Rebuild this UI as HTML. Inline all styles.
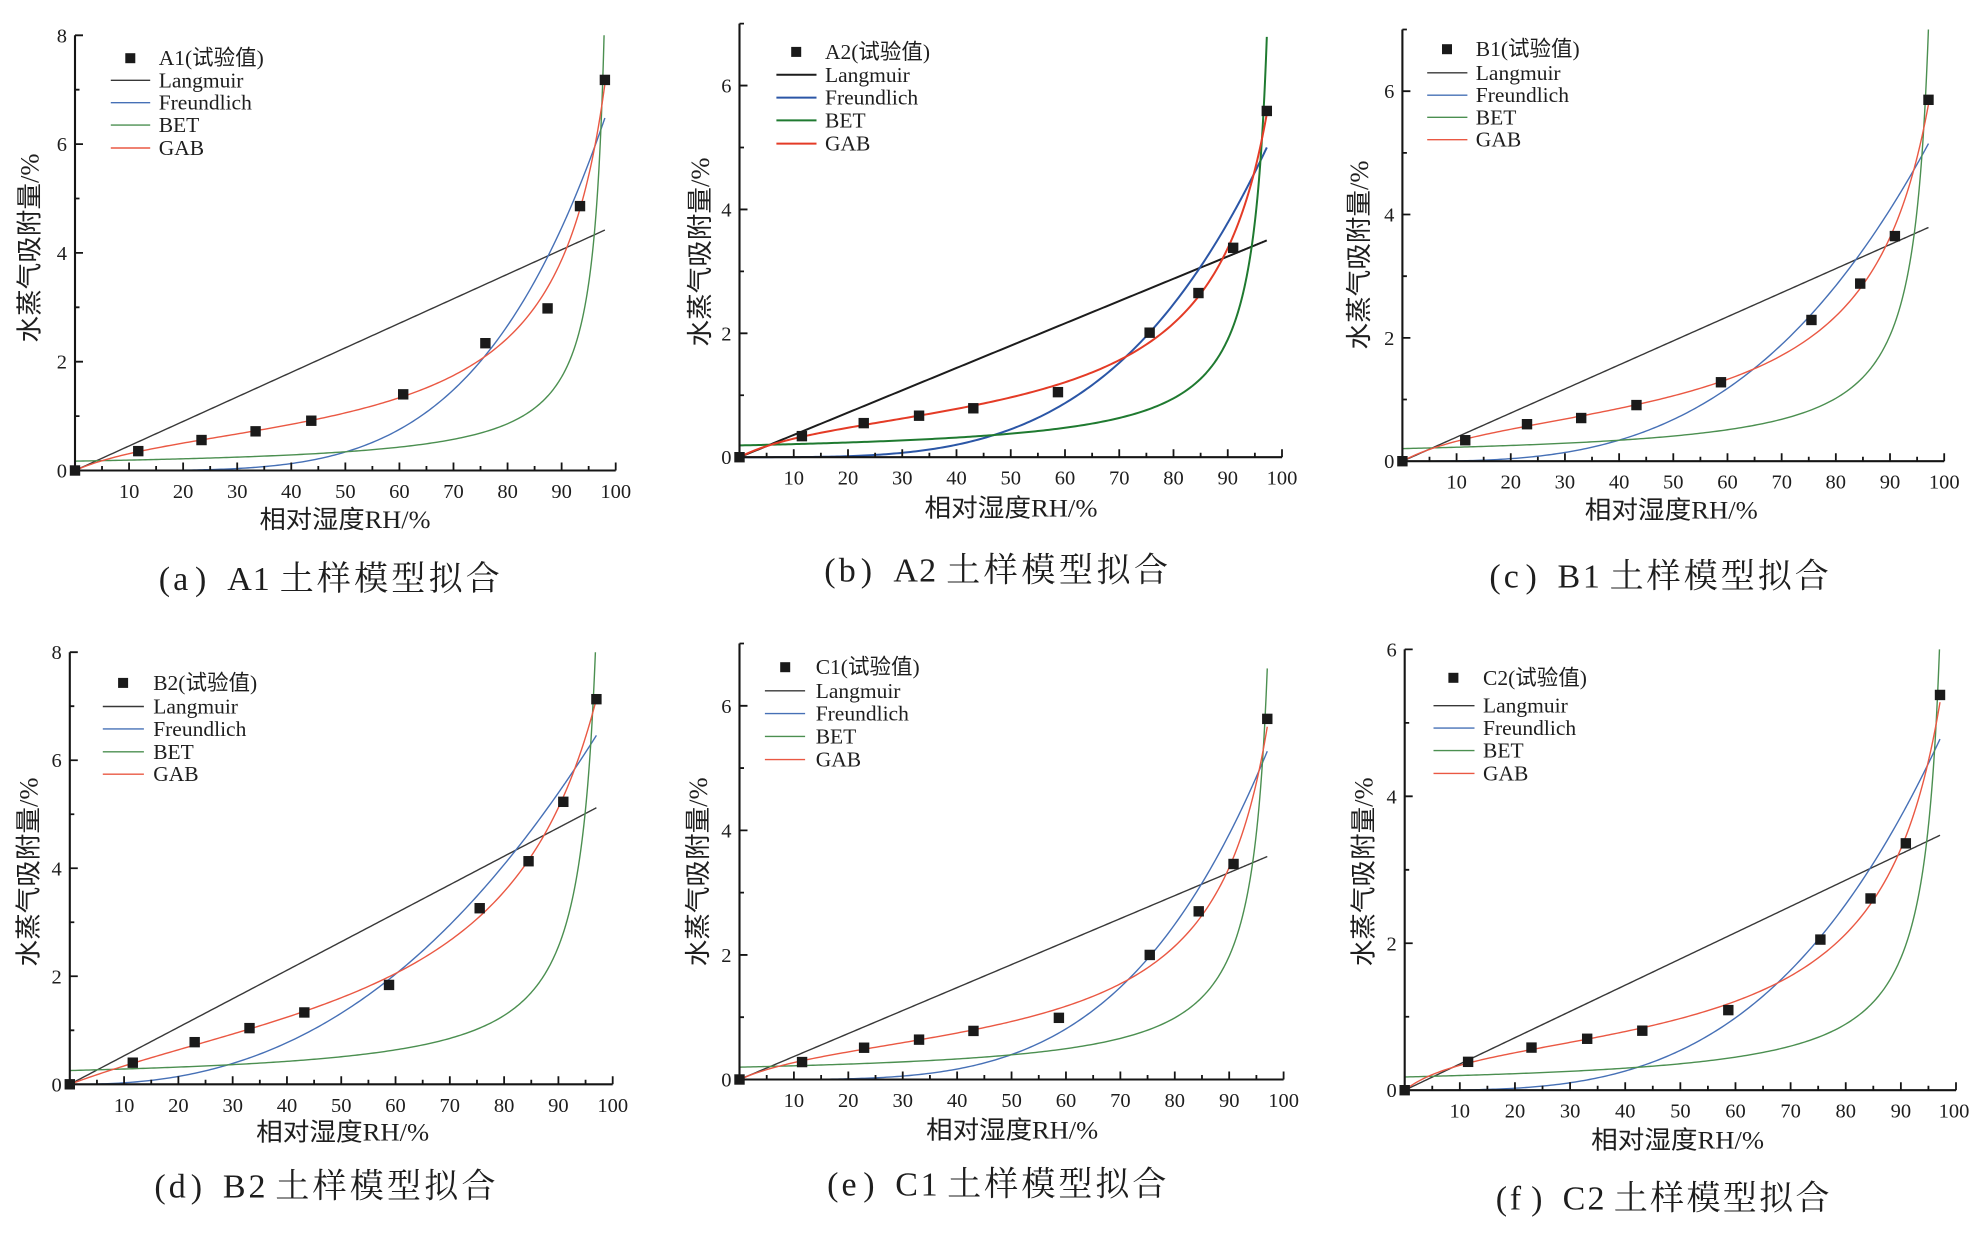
<!DOCTYPE html>
<html><head><meta charset="utf-8">
<style>
html,body{margin:0;padding:0;background:#fff;}
svg{display:block;}
.tk{font-family:"Liberation Serif",serif;font-size:20.5px;fill:#1e1e1e;}
.lg{font-family:"Liberation Serif","Noto Sans CJK SC",serif;font-size:21.5px;fill:#1e1e1e;}
.xt{font-family:"Liberation Serif","Noto Sans CJK SC",sans-serif;font-size:25px;fill:#1e1e1e;}
.yt{font-family:"Liberation Serif","Noto Sans CJK SC",sans-serif;font-size:26px;fill:#1e1e1e;}
.cap{font-family:"Liberation Serif","Noto Serif CJK SC",serif;font-size:34px;fill:#1e1e1e;}
</style></head><body>
<svg id="s" width="1978" height="1236" viewBox="0 0 1978 1236" xmlns="http://www.w3.org/2000/svg">
<rect x="0" y="0" width="1978" height="1236" fill="#fff"/>
<g id="plots"></g>

<!-- Panel a -->
<g class="tk" text-anchor="middle">
<text x="129.1" y="498">10</text><text x="183.1" y="498">20</text><text x="237.2" y="498">30</text><text x="291.3" y="498">40</text><text x="345.4" y="498">50</text><text x="399.4" y="498">60</text><text x="453.5" y="498">70</text><text x="507.6" y="498">80</text><text x="561.6" y="498">90</text><text x="615.7" y="498">100</text>
</g>
<g class="tk" text-anchor="end">
<text x="67" y="477.5">0</text><text x="67" y="368.7">2</text><text x="67" y="259.9">4</text><text x="67" y="151.1">6</text><text x="67" y="42.3">8</text>
</g>
<g class="lg">
<text x="158.7" y="65.2">A1(试验值)</text><text x="158.7" y="87.3">Langmuir</text><text x="158.7" y="109.7">Freundlich</text><text x="158.7" y="132.1">BET</text><text x="158.7" y="155">GAB</text>
</g>
<text class="xt" x="345" y="528" text-anchor="middle" textLength="171" lengthAdjust="spacingAndGlyphs">相对湿度RH/%</text>
<text class="yt" transform="translate(29.6,248) rotate(-90)" x="0" y="9" text-anchor="middle" textLength="189" lengthAdjust="spacingAndGlyphs">水蒸气吸附量/%</text>
<text class="cap" y="590" x="158.7 173.1 195.0 227.2 252.8 279.7 316.9 354.1 391.3 428.6 465.8">(a)A1土样模型拟合</text>

<!-- Panel b -->
<g class="tk" text-anchor="middle">
<text x="793.8" y="484.7">10</text><text x="848" y="484.7">20</text><text x="902.3" y="484.7">30</text><text x="956.5" y="484.7">40</text><text x="1010.8" y="484.7">50</text><text x="1065" y="484.7">60</text><text x="1119.3" y="484.7">70</text><text x="1173.5" y="484.7">80</text><text x="1227.8" y="484.7">90</text><text x="1282" y="484.7">100</text>
</g>
<g class="tk" text-anchor="end">
<text x="731.5" y="464.2">0</text><text x="731.5" y="340.3">2</text><text x="731.5" y="216.4">4</text><text x="731.5" y="92.6">6</text>
</g>
<g class="lg">
<text x="825" y="58.9">A2(试验值)</text><text x="825" y="81.8">Langmuir</text><text x="825" y="104.6">Freundlich</text><text x="825" y="127.4">BET</text><text x="825" y="150.6">GAB</text>
</g>
<text class="xt" x="1011" y="516.6" text-anchor="middle" textLength="173" lengthAdjust="spacingAndGlyphs">相对湿度RH/%</text>
<text class="yt" transform="translate(699.8,252) rotate(-90)" x="0" y="9" text-anchor="middle" textLength="189" lengthAdjust="spacingAndGlyphs">水蒸气吸附量/%</text>
<text class="cap" y="581.6" x="824.2 838.8 860.8 893.4 919.1 946.2 983.8 1021.4 1058.9 1096.5 1134.0">(b)A2土样模型拟合</text>

<!-- Panel c -->
<g class="tk" text-anchor="middle">
<text x="1456.6" y="488.7">10</text><text x="1510.8" y="488.7">20</text><text x="1564.9" y="488.7">30</text><text x="1619.1" y="488.7">40</text><text x="1673.3" y="488.7">50</text><text x="1727.5" y="488.7">60</text><text x="1781.7" y="488.7">70</text><text x="1835.8" y="488.7">80</text><text x="1890" y="488.7">90</text><text x="1944.2" y="488.7">100</text>
</g>
<g class="tk" text-anchor="end">
<text x="1394.4" y="468.2">0</text><text x="1394.4" y="344.9">2</text><text x="1394.4" y="221.5">4</text><text x="1394.4" y="98.2">6</text>
</g>
<g class="lg">
<text x="1475.8" y="56.2">B1(试验值)</text><text x="1475.8" y="79.8">Langmuir</text><text x="1475.8" y="102.2">Freundlich</text><text x="1475.8" y="124.3">BET</text><text x="1475.8" y="146.7">GAB</text>
</g>
<text class="xt" x="1671.3" y="518.6" text-anchor="middle" textLength="173" lengthAdjust="spacingAndGlyphs">相对湿度RH/%</text>
<text class="yt" transform="translate(1359,255) rotate(-90)" x="0" y="9" text-anchor="middle" textLength="189" lengthAdjust="spacingAndGlyphs">水蒸气吸附量/%</text>
<text class="cap" y="587.5" x="1489.4 1503.8 1525.5 1557.5 1582.9 1609.6 1646.6 1683.7 1720.7 1757.7 1794.7">(c)B1土样模型拟合</text>

<!-- Panel d -->
<g class="tk" text-anchor="middle">
<text x="124.1" y="1111.8">10</text><text x="178.4" y="1111.8">20</text><text x="232.7" y="1111.8">30</text><text x="287" y="1111.8">40</text><text x="341.3" y="1111.8">50</text><text x="395.5" y="1111.8">60</text><text x="449.8" y="1111.8">70</text><text x="504.1" y="1111.8">80</text><text x="558.4" y="1111.8">90</text><text x="612.7" y="1111.8">100</text>
</g>
<g class="tk" text-anchor="end">
<text x="61.8" y="1091.3">0</text><text x="61.8" y="983.3">2</text><text x="61.8" y="875.3">4</text><text x="61.8" y="767.2">6</text><text x="61.8" y="659.2">8</text>
</g>
<g class="lg">
<text x="153.2" y="689.9">B2(试验值)</text><text x="153.2" y="713.5">Langmuir</text><text x="153.2" y="735.9">Freundlich</text><text x="153.2" y="758.8">BET</text><text x="153.2" y="781.2">GAB</text>
</g>
<text class="xt" x="342.7" y="1140.5" text-anchor="middle" textLength="173" lengthAdjust="spacingAndGlyphs">相对湿度RH/%</text>
<text class="yt" transform="translate(28.3,872) rotate(-90)" x="0" y="9" text-anchor="middle" textLength="189" lengthAdjust="spacingAndGlyphs">水蒸气吸附量/%</text>
<text class="cap" y="1197.6" x="154.4 168.8 190.7 222.9 248.5 275.4 312.6 349.8 387.0 424.3 461.5">(d)B2土样模型拟合</text>

<!-- Panel e -->
<g class="tk" text-anchor="middle">
<text x="793.9" y="1107">10</text><text x="848.3" y="1107">20</text><text x="902.7" y="1107">30</text><text x="957.1" y="1107">40</text><text x="1011.6" y="1107">50</text><text x="1066" y="1107">60</text><text x="1120.4" y="1107">70</text><text x="1174.8" y="1107">80</text><text x="1229.2" y="1107">90</text><text x="1283.6" y="1107">100</text>
</g>
<g class="tk" text-anchor="end">
<text x="731.5" y="1086.5">0</text><text x="731.5" y="961.9">2</text><text x="731.5" y="837.3">4</text><text x="731.5" y="712.8">6</text>
</g>
<g class="lg">
<text x="815.7" y="674.2">C1(试验值)</text><text x="815.7" y="697.8">Langmuir</text><text x="815.7" y="720.6">Freundlich</text><text x="815.7" y="743.4">BET</text><text x="815.7" y="766.6">GAB</text>
</g>
<text class="xt" x="1012.2" y="1138.5" text-anchor="middle" textLength="172" lengthAdjust="spacingAndGlyphs">相对湿度RH/%</text>
<text class="yt" transform="translate(698,871.8) rotate(-90)" x="0" y="9" text-anchor="middle" textLength="189" lengthAdjust="spacingAndGlyphs">水蒸气吸附量/%</text>
<text class="cap" y="1195.6" x="827.1 841.5 863.2 895.2 920.6 947.3 984.3 1021.4 1058.4 1095.4 1132.4">(e)C1土样模型拟合</text>

<!-- Panel f -->
<g class="tk" text-anchor="middle">
<text x="1459.8" y="1117.7">10</text><text x="1515" y="1117.7">20</text><text x="1570.1" y="1117.7">30</text><text x="1625.2" y="1117.7">40</text><text x="1680.4" y="1117.7">50</text><text x="1735.5" y="1117.7">60</text><text x="1790.6" y="1117.7">70</text><text x="1845.7" y="1117.7">80</text><text x="1900.9" y="1117.7">90</text><text x="1954" y="1117.7">100</text>
</g>
<g class="tk" text-anchor="end">
<text x="1396.7" y="1097.2">0</text><text x="1396.7" y="950.3">2</text><text x="1396.7" y="803.3">4</text><text x="1396.7" y="656.4">6</text>
</g>
<g class="lg">
<text x="1483" y="684.8">C2(试验值)</text><text x="1483" y="712.7">Langmuir</text><text x="1483" y="735.1">Freundlich</text><text x="1483" y="757.6">BET</text><text x="1483" y="780.4">GAB</text>
</g>
<text class="xt" x="1677.6" y="1148.4" text-anchor="middle" textLength="173" lengthAdjust="spacingAndGlyphs">相对湿度RH/%</text>
<text class="yt" transform="translate(1363.3,871.8) rotate(-90)" x="0" y="9" text-anchor="middle" textLength="189" lengthAdjust="spacingAndGlyphs">水蒸气吸附量/%</text>
<text class="cap" y="1209.4" x="1495.7 1509.8 1531.1 1562.6 1587.5 1613.8 1650.1 1686.5 1722.8 1759.1 1795.5">(f)C2土样模型拟合</text>
</svg>
<script>
(function(){
var NS='http://www.w3.org/2000/svg';
var root=document.getElementById('plots');
function el(par,t,a){var e=document.createElementNS(NS,t);for(var k in a)e.setAttribute(k,a[k]);par.appendChild(e);return e;}
var P=[
{x0:75,x100:615.7,y0:470.5,ytop:35.3,ymax:8,thick:false,
 pts:[[0,0],[11.7,0.356],[23.4,0.56],[33.4,0.72],[43.7,0.915],[60.7,1.40],[75.9,2.34],[87.4,2.98],[93.4,4.86],[98.0,7.18]],
 xe:98,L:4.42,F:[6.48,4.38],vm:0.172,
 gab:[[0,0],[5,0.2],[11.7,0.37],[23.4,0.57],[33.4,0.73],[43.7,0.91],[52,1.1],[60.7,1.36],[70,1.7],[75,2.03],[80,2.4],[86.6,3.32],[90.6,4.05],[93.4,4.75],[96,5.9],[98,7.1]],
 leg:{mx:130.3,lx1:110.8,lx2:150.2,rows:[58.2,80.3,102.7,125.1,148]}},
{x0:739.5,x100:1282,y0:457.2,ytop:23.6,ymax:7,thick:true,
 pts:[[0,0],[11.5,0.34],[22.9,0.55],[33.1,0.67],[43.1,0.79],[58.7,1.05],[75.6,2.01],[84.6,2.65],[91.0,3.38],[97.2,5.59]],
 xe:97.2,L:3.50,F:[5.0,3.62],vm:0.19,
 gab:[[0,0],[5,0.18],[11.5,0.36],[22.9,0.56],[33.1,0.68],[43.1,0.81],[50,0.95],[58.7,1.15],[65,1.33],[70,1.52],[75.6,1.87],[78.8,2.05],[84.6,2.6],[89,3.18],[93,4.15],[97.2,5.5]],
 leg:{mx:796.2,lx1:776.4,lx2:816.5,rows:[51.9,74.8,97.6,120.4,143.6]}},
{x0:1402.4,x100:1944.2,y0:461.2,ytop:29.5,ymax:7,thick:false,
 pts:[[0,0],[11.6,0.34],[23,0.60],[33,0.70],[43.2,0.91],[58.8,1.28],[75.5,2.29],[84.5,2.88],[90.9,3.65],[97.1,5.86]],
 xe:97.1,L:3.79,F:[5.15,3.06],vm:0.204,
 gab:[[0,0],[5,0.2],[11.6,0.36],[23,0.58],[33,0.72],[43.2,0.9],[50,1.05],[58.8,1.29],[66,1.55],[75.5,2.05],[84.5,2.85],[90.9,3.75],[94,4.6],[97.1,5.8]],
 leg:{mx:1447,lx1:1427.2,lx2:1467.4,rows:[49.2,72.8,95.2,117.3,139.7]}},
{x0:69.8,x100:612.7,y0:1084.3,ytop:652.2,ymax:8,thick:false,
 pts:[[0,0],[11.6,0.40],[23,0.78],[33.1,1.04],[43.2,1.33],[58.8,1.84],[75.5,3.26],[84.5,4.13],[90.9,5.23],[97,7.13]],
 xe:97,L:5.12,F:[6.46,2.40],vm:0.255,
 gab:[[0,0],[5,0.2],[11.6,0.42],[23,0.77],[33.1,1.05],[43.2,1.35],[50,1.58],[58.8,1.95],[66,2.35],[75.5,3.1],[84.5,4.12],[90.9,5.4],[94,6.2],[97,7.05]],
 leg:{mx:123.1,lx1:102.8,lx2:143.9,rows:[682.9,706.5,728.9,751.8,774.2]}},
{x0:739.5,x100:1283.6,y0:1079.5,ytop:643.5,ymax:7,thick:false,
 pts:[[0,0],[11.5,0.28],[22.9,0.51],[33,0.64],[43,0.78],[58.7,0.99],[75.4,2.00],[84.4,2.70],[90.8,3.46],[97,5.79]],
 xe:97,L:3.58,F:[5.27,3.89],vm:0.198,
 gab:[[0,0],[5,0.14],[11.5,0.28],[22.9,0.5],[33,0.63],[43,0.78],[58.7,1.15],[75.4,1.88],[84.4,2.65],[90.8,3.42],[97,5.7]],
 leg:{mx:785.2,lx1:764.9,lx2:805.1,rows:[667.2,690.8,713.6,736.4,759.6]}},
{x0:1404.7,x100:1956,y0:1090.2,ytop:649.4,ymax:6,thick:false,
 pts:[[0,0],[11.5,0.386],[23,0.58],[33.1,0.70],[43.1,0.81],[58.7,1.09],[75.4,2.05],[84.5,2.61],[90.9,3.36],[97.1,5.38]],
 xe:97.1,L:3.47,F:[4.78,3.28],vm:0.18,
 gab:[[0,0],[5,0.2],[11.5,0.38],[23,0.56],[33.1,0.69],[43.1,0.82],[58.7,1.16],[75.4,1.87],[84.5,2.55],[90.9,3.4],[97.1,5.3]],
 leg:{mx:1453.4,lx1:1433.5,lx2:1474.5,rows:[677.8,705.7,728.1,750.6,773.4]}}
];
function fitGAB(ps){
  var best=null;
  for(var k=0.60;k<0.9995;k+=0.001){
    for(var lc=-1;lc<=3.001;lc+=0.02){
      var c=Math.pow(10,lc),sff=0,sfy=0,fs=[];
      for(var i=0;i<ps.length;i++){var h=ps[i][0]/100;var f=c*k*h/((1-k*h)*(1-k*h+c*k*h));fs.push(f);sff+=f*f;sfy+=f*ps[i][1];}
      if(sff<=0)continue;
      var m=sfy/sff,e=0;
      for(var i=0;i<ps.length;i++){var d=m*fs[i]-ps[i][1];e+=d*d;}
      if(!best||e<best.e)best={e:e,m:m,c:c,k:k};
    }
  }
  return best;
}
P.forEach(function(p,idx){
  var g=el(root,'g',{});
  var sx=(p.x100-p.x0)/100, sy=(p.y0-p.ytop)/p.ymax;
  function X(v){return p.x0+v*sx;} function Y(v){return p.y0-v*sy;}
  var cid='clip'+idx;
  var cp=el(g,'clipPath',{id:cid});
  el(cp,'rect',{x:p.x0,y:p.ytop,width:p.x100-p.x0+2,height:p.y0-p.ytop+2});
  var col=p.thick?{L:'#1c1c1c',F:'#2b56a6',B:'#1f7a30',G:'#e43b26',w:2.0}:{L:'#383838',F:'#4670b6',B:'#4b8f50',G:'#ea5843',w:1.4};
  function xs(){var a=[];for(var x=0;x<90;x+=0.5)a.push(x);for(var x=90;x<p.xe;x+=0.05)a.push(x);a.push(p.xe);return a;}
  function path(fn){var d='';xs().forEach(function(x,i){var y=fn(x);if(!isFinite(y))return;if(y>p.ymax+0.6)y=p.ymax+0.6;d+=(d?'L':'M')+X(x).toFixed(2)+' '+Y(y).toFixed(2);});return d;}
  var cg=el(g,'g',{'clip-path':'url(#'+cid+')',fill:'none','stroke-linejoin':'round'});
  var gb=fitGAB(p.gab);
  el(cg,'path',{d:path(function(x){return p.L*x/p.xe;}),stroke:col.L,'stroke-width':col.w});
  el(cg,'path',{d:path(function(x){return p.F[0]*Math.pow(x/p.xe,p.F[1]);}),stroke:col.F,'stroke-width':col.w});
  el(cg,'path',{d:path(function(x){return p.vm/(1-x/100);}),stroke:col.B,'stroke-width':col.w});
  el(cg,'path',{d:path(function(x){var h=x/100,k=gb.k,c=gb.c;return gb.m*c*k*h/((1-k*h)*(1-k*h+c*k*h));}),stroke:col.G,'stroke-width':col.w});
  var ax=el(g,'g',{stroke:'#151515','stroke-width':1.8,fill:'none'});
  el(ax,'path',{d:'M'+p.x0+' '+p.ytop+'L'+p.x0+' '+(p.y0+0.9)+'M'+(p.x0-0.9)+' '+p.y0+'L'+p.x100+' '+p.y0,'stroke-width':2.1});
  var d='';
  for(var v=5;v<=100;v+=5){var L=(v%10===0)?8:4.5;d+='M'+X(v).toFixed(2)+' '+p.y0+'L'+X(v).toFixed(2)+' '+(p.y0-L);}
  for(var v=1;v<=p.ymax;v++){var L=(v%2===0)?8:4.5;d+='M'+p.x0+' '+Y(v).toFixed(2)+'L'+(p.x0+L)+' '+Y(v).toFixed(2);}
  el(ax,'path',{d:d});
  p.pts.forEach(function(q){el(g,'rect',{x:(X(q[0])-5.2).toFixed(2),y:(Y(q[1])-5.2).toFixed(2),width:10.4,height:10.4,fill:'#1a1a1a'});});
  var lg=p.leg;
  el(g,'rect',{x:lg.mx-5,y:lg.rows[0]-5,width:10,height:10,fill:'#1a1a1a'});
  [col.L,col.F,col.B,col.G].forEach(function(c,i){el(g,'line',{x1:lg.lx1,x2:lg.lx2,y1:lg.rows[i+1],y2:lg.rows[i+1],stroke:c,'stroke-width':col.w});});
});
})();
</script>
</body></html>
